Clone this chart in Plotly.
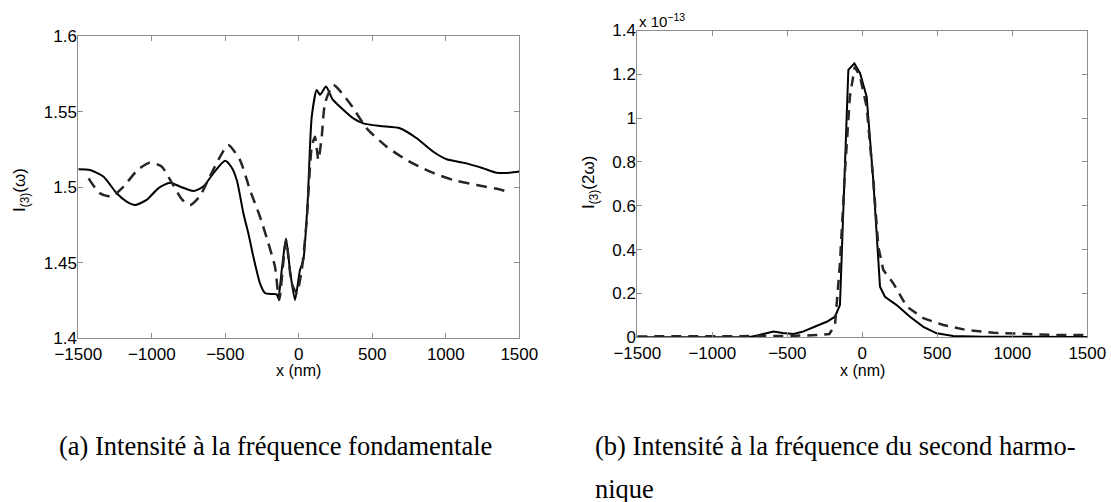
import plotly.graph_objects as go

# ---- Panel (a): intensity at fundamental frequency ----
xa_solid = [-1500, -1420, -1328, -1239, -1171, -1114, -1035, -956, -876, -797,
            -717, -650, -582, -502, -460, -422, -377, -340, -309, -264,
            -230, -180, -150, -139, -115, -87, -60, -26, 8, 31,
            60, 88, 122, 144, 185, 230, 280, 371, 439, 552,
            688, 802, 915, 1006, 1142, 1255, 1346, 1437, 1500]
ya_solid = [1.5118, 1.5113, 1.5069, 1.4959, 1.4904, 1.4882, 1.4915, 1.4992, 1.5029, 1.4999,
            1.4974, 1.5003, 1.5091, 1.5175, 1.5135, 1.5047, 1.4827, 1.468, 1.4539, 1.4363,
            1.4299, 1.4292, 1.4290, 1.4264, 1.446, 1.466, 1.445, 1.4253, 1.4451, 1.4518,
            1.49, 1.5466, 1.5643, 1.561, 1.5665, 1.5580, 1.5532, 1.5455, 1.5422, 1.5404,
            1.5389, 1.5323, 1.5234, 1.5184, 1.5157, 1.5124, 1.5095, 1.5095, 1.5103]

xa_dash = [-1430, -1355, -1273, -1191, -1097, -1012, -933, -862, -792, -739,
           -675, -605, -534, -480, -400, -332, -264, -207, -162, -133,
           -87, -48, -14, 20, 54, 88, 110, 133, 156, 178,
           235, 348, 462, 598, 734, 893, 1051, 1210, 1380, 1413]
ya_dash = [1.5058, 1.4960, 1.4937, 1.5004, 1.5114, 1.5162, 1.5136, 1.5026, 1.4915, 1.4882,
           1.4937, 1.507, 1.5204, 1.5279, 1.5179, 1.4981, 1.4804, 1.4628, 1.4473, 1.4253,
           1.465, 1.4363, 1.4299, 1.4451, 1.4782, 1.5267, 1.5334, 1.518, 1.5334, 1.5554,
           1.5676, 1.5554, 1.5389, 1.5267, 1.5179, 1.5102, 1.5047, 1.5014, 1.4981, 1.4970]

# ---- Panel (b): intensity at second harmonic (units of 1e-13) ----
xb_solid = [-1500, -760, -700, -640, -593, -530, -460, -400, -349, -290,
            -237, -182, -149, -115, -93, -53, -15, 29, 73, 118,
            151, 229, 318, 407, 496, 607, 800, 1100, 1500]
yb_solid = [0, 0, 0.008, 0.02, 0.026, 0.02, 0.015, 0.025, 0.041, 0.056,
            0.071, 0.094, 0.147, 0.794, 1.22, 1.25, 1.205, 1.098, 0.718, 0.231,
            0.185, 0.147, 0.094, 0.048, 0.018, 0.006, 0.003, 0.002, 0.001]

xb_dash = [-1500, -1000, -500, -300, -250, -220, -182, -149, -115, -83,
           -50, -15, 29, 73, 107, 140, 207, 296, 407, 540,
           696, 873, 1096, 1318, 1500]
yb_dash = [0.004, 0.004, 0.006, 0.01, 0.015, 0.015, 0.056, 0.338, 0.763, 1.098,
           1.235, 1.189, 1.052, 0.718, 0.413, 0.307, 0.246, 0.140, 0.087, 0.056,
           0.033, 0.021, 0.015, 0.010, 0.010]

x_ticks = [-1500, -1000, -500, 0, 500, 1000, 1500]
x_ticktext = ["\u22121500", "\u22121000", "\u2212500", "0", "500", "1000", "1500"]
ya_ticks = [1.4, 1.45, 1.5, 1.55, 1.6]
ya_ticktext = ["1.4", "1.45", "1.5", "1.55", "1.6"]
yb_ticks = [0, 0.2, 0.4, 0.6, 0.8, 1.0, 1.2, 1.4]
yb_ticktext = ["0", "0.2", "0.4", "0.6", "0.8", "1", "1.2", "1.4"]

W, H = 1111, 502
SANS = "Liberation Sans, Arial, sans-serif"
SERIF = "Liberation Serif, Times New Roman, serif"
FRAME = "#8f8f8f"

fig = go.Figure()
fig.add_trace(go.Scatter(x=xa_solid, y=ya_solid, mode="lines",
                         line=dict(color="black", width=2, shape="spline", smoothing=0.6),
                         xaxis="x", yaxis="y"))
fig.add_trace(go.Scatter(x=xa_dash, y=ya_dash, mode="lines",
                         line=dict(color="#262626", width=2.5, dash="11px,7px", shape="spline", smoothing=0.6),
                         xaxis="x", yaxis="y"))
fig.add_trace(go.Scatter(x=xb_solid, y=yb_solid, mode="lines",
                         line=dict(color="black", width=2),
                         xaxis="x2", yaxis="y2"))
fig.add_trace(go.Scatter(x=xb_dash, y=yb_dash, mode="lines",
                         line=dict(color="#262626", width=2.5, dash="10px,7px"),
                         xaxis="x2", yaxis="y2"))

common = dict(showgrid=False, zeroline=False, showline=True, linecolor=FRAME, linewidth=1,
              mirror="ticks", ticks="inside", ticklen=5, tickcolor=FRAME, tickwidth=1,
              automargin=False,
              tickfont=dict(family=SANS, size=17, color="black"))

fig.update_layout(
    width=W, height=H,
    margin=dict(l=0, r=0, t=0, b=0, autoexpand=False),
    paper_bgcolor="white", plot_bgcolor="white",
    showlegend=False,
    xaxis=dict(domain=[78.3 / W, 519.3 / W], range=[-1500, 1500], anchor="y",
               tickvals=x_ticks, ticktext=x_ticktext, **common),
    yaxis=dict(domain=[1 - 338.2 / H, 1 - 36 / H], range=[1.4, 1.6], anchor="x",
               tickvals=ya_ticks, ticktext=ya_ticktext, ticklabelstandoff=-3, **common),
    xaxis2=dict(domain=[637.3 / W, 1087.3 / W], range=[-1500, 1500], anchor="y2",
                tickvals=x_ticks, ticktext=x_ticktext, **common),
    yaxis2=dict(domain=[1 - 337.3 / H, 1 - 30.5 / H], range=[0, 1.4], anchor="x2",
                tickvals=yb_ticks, ticktext=yb_ticktext, ticklabelstandoff=-3, **common),
)

ann = []
ann.append(dict(text="I<sub>(3)</sub>(\u03c9)", x=21 / W, y=1 - 190 / H, xref="paper", yref="paper",
                textangle=-90, showarrow=False, xanchor="center", yanchor="middle",
                font=dict(family=SANS, size=17, color="black")))
ann.append(dict(text="I<sub>(3)</sub>(2\u03c9)", x=590 / W, y=1 - 183 / H, xref="paper", yref="paper",
                textangle=-90, showarrow=False, xanchor="center", yanchor="middle",
                font=dict(family=SANS, size=17, color="black")))
for cx in [298.8, 862.3]:
    ann.append(dict(text="x (nm)", x=cx / W, y=1 - 370 / H, xref="paper", yref="paper",
                    showarrow=False, xanchor="center", yanchor="middle",
                    font=dict(family=SANS, size=16, color="black")))
ann.append(dict(text="x 10<sup>\u221213</sup>", x=637 / W, y=1 - 21 / H, xref="paper", yref="paper",
                showarrow=False, xanchor="left", yanchor="middle",
                font=dict(family=SANS, size=15, color="black")))
ann.append(dict(text="(a) Intensité à la fréquence fondamentale", x=56.7 / W, y=1 - 446 / H,
                xref="paper", yref="paper", showarrow=False, xanchor="left", yanchor="middle",
                font=dict(family=SERIF, size=26.5, color="black")))
ann.append(dict(text="(b) Intensité à la fréquence du second harmo-", x=593.3 / W, y=1 - 446 / H,
                xref="paper", yref="paper", showarrow=False, xanchor="left", yanchor="middle",
                font=dict(family=SERIF, size=26.5, color="black")))
ann.append(dict(text="nique", x=593.3 / W, y=1 - 489 / H,
                xref="paper", yref="paper", showarrow=False, xanchor="left", yanchor="middle",
                font=dict(family=SERIF, size=26.5, color="black")))
fig.update_layout(annotations=ann)

fig.write_html("out.html", config={"displayModeBar": False},
               post_script="document.body.style.margin='0';document.body.style.overflow='hidden';")
